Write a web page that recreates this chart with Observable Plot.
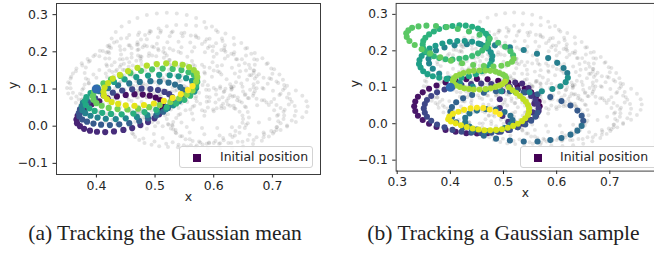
<!DOCTYPE html>
<html><head><meta charset="utf-8">
<script src="https://cdn.jsdelivr.net/npm/d3@7"></script>
<script src="https://cdn.jsdelivr.net/npm/@observablehq/plot@0.6"></script>
<style>
body{margin:0;background:#fff;}
#wrap{position:relative;width:654px;height:253px;overflow:hidden;}
.panel{position:absolute;top:0;}
.panel svg{display:block;}
.legend{position:absolute;top:146px;height:22px;box-sizing:border-box;border:1px solid #d3d3d3;border-radius:3px;background:rgba(255,255,255,0.85);font:12.5px "DejaVu Sans",sans-serif;color:#262626;}
.legend .sq{position:absolute;top:6.5px;width:8px;height:8px;background:#440154;}
.legend .lt{position:absolute;top:2px;line-height:16px;white-space:nowrap;}
.caption{position:absolute;top:221px;line-height:24px;font:21.5px "Liberation Serif","Times New Roman",serif;color:#222;white-space:nowrap;transform:translateX(-50%);}
</style></head>
<body><div id="wrap"></div>
<script>
// ---------- labels & ticks ----------
const xTicksA = [0.4, 0.5, 0.6, 0.7];
const xTicksB = [0.3, 0.4, 0.5, 0.6, 0.7];
const yTicks = [-0.1, 0.0, 0.1, 0.2, 0.3];
const xLabel = "x";
const yLabel = "y";
const legendLabel = "Initial position";
const captionA = "(a) Tracking the Gaussian mean";
const captionB = "(b) Tracking a Gaussian sample";

// ---------- gray background trajectory (same in both panels) ----------
const grayG1 = [[.620,.200],[.619,.218],[.614,.236],[.607,.253],[.597,.268],[.584,.280],[.570,.291],[.554,.299],[.537,.303],[.520,.305],[.503,.303],[.486,.299],[.470,.291],[.456,.280],[.443,.268],[.433,.253],[.426,.236],[.422,.218],[.420,.200],[.422,.182],[.426,.164],[.433,.148],[.443,.133],[.456,.120],[.470,.109],[.486,.101],[.503,.097],[.520,.095],[.537,.097],[.554,.101],[.570,.109],[.584,.120],[.597,.133],[.607,.148],[.614,.164],[.619,.182]];
const grayG2 = [[.645,.148],[.643,.164],[.638,.180],[.630,.195],[.618,.210],[.604,.223],[.588,.234],[.569,.244],[.550,.251],[.530,.255],[.510,.257],[.491,.256],[.473,.252],[.456,.245],[.442,.236],[.430,.225],[.422,.212],[.417,.198],[.415,.182],[.417,.166],[.422,.150],[.430,.135],[.442,.120],[.456,.107],[.473,.096],[.491,.086],[.510,.079],[.530,.075],[.550,.073],[.569,.075],[.588,.079],[.604,.085],[.618,.094],[.630,.105],[.638,.118],[.643,.132]];
const grayG3 = [[.570,.147],[.568,.162],[.563,.175],[.555,.187],[.544,.197],[.531,.204],[.515,.210],[.498,.212],[.479,.212],[.460,.210],[.441,.205],[.422,.197],[.405,.188],[.389,.176],[.376,.163],[.365,.148],[.357,.133],[.352,.118],[.350,.103],[.352,.088],[.357,.075],[.365,.063],[.376,.053],[.389,.046],[.405,.040],[.422,.038],[.441,.037],[.460,.040],[.479,.045],[.498,.053],[.515,.062],[.531,.074],[.544,.087],[.555,.102],[.563,.117],[.568,.132]];
const grayG4 = [[.630,.098],[.628,.113],[.622,.126],[.613,.139],[.600,.150],[.584,.159],[.565,.165],[.545,.169],[.523,.171],[.500,.170],[.477,.166],[.455,.160],[.435,.152],[.416,.142],[.400,.130],[.387,.116],[.378,.102],[.372,.087],[.370,.072],[.372,.057],[.378,.044],[.387,.031],[.400,.020],[.416,.011],[.435,.005],[.455,.001],[.477,-.001],[.500,.000],[.523,.004],[.545,.010],[.565,.018],[.584,.028],[.600,.040],[.613,.054],[.622,.068],[.628,.083]];
const grayG5 = [[.660,.023],[.658,.038],[.653,.053],[.644,.067],[.632,.080],[.617,.092],[.600,.103],[.581,.111],[.561,.117],[.540,.120],[.519,.121],[.499,.119],[.480,.115],[.463,.108],[.448,.099],[.436,.088],[.427,.075],[.422,.062],[.420,.047],[.422,.032],[.427,.017],[.436,.003],[.448,-.011],[.463,-.022],[.480,-.033],[.499,-.041],[.519,-.047],[.540,-.050],[.561,-.051],[.581,-.049],[.600,-.045],[.617,-.038],[.632,-.029],[.644,-.018],[.653,-.005],[.658,.008]];
const grayG6 = [[.760,.053],[.758,.067],[.751,.082],[.740,.096],[.725,.109],[.707,.120],[.685,.130],[.661,.137],[.636,.142],[.610,.145],[.584,.145],[.559,.143],[.535,.137],[.513,.130],[.495,.120],[.480,.109],[.469,.096],[.462,.082],[.460,.068],[.462,.053],[.469,.038],[.480,.024],[.495,.011],[.513,.000],[.535,-.010],[.559,-.017],[.584,-.022],[.610,-.025],[.636,-.025],[.661,-.023],[.685,-.017],[.707,-.010],[.725,-.001],[.740,.011],[.751,.024],[.758,.038]];
const grayG7 = [[.740,.041],[.738,.054],[.733,.066],[.725,.077],[.714,.087],[.701,.095],[.685,.101],[.668,.104],[.649,.106],[.630,.105],[.611,.102],[.592,.097],[.575,.090],[.559,.080],[.546,.070],[.535,.058],[.527,.045],[.522,.032],[.520,.019],[.522,.006],[.527,-.006],[.535,-.017],[.546,-.027],[.559,-.035],[.575,-.041],[.592,-.044],[.611,-.046],[.630,-.045],[.649,-.042],[.668,-.037],[.685,-.030],[.701,-.020],[.714,-.010],[.725,.002],[.733,.015],[.738,.028]];
const grayG8 = [[.720,.111],[.718,.125],[.712,.139],[.703,.153],[.690,.167],[.674,.179],[.655,.190],[.635,.199],[.613,.205],[.590,.210],[.567,.212],[.545,.212],[.525,.209],[.506,.204],[.490,.196],[.477,.187],[.468,.176],[.462,.163],[.460,.150],[.462,.135],[.468,.121],[.477,.107],[.490,.094],[.506,.081],[.525,.071],[.545,.061],[.567,.055],[.590,.050],[.613,.048],[.635,.048],[.655,.051],[.674,.056],[.690,.064],[.703,.073],[.712,.084],[.718,.097]];
const grayG9 = [[.650,.019],[.649,.029],[.644,.039],[.637,.047],[.628,.055],[.616,.060],[.603,.064],[.588,.066],[.571,.067],[.555,.065],[.539,.062],[.522,.057],[.507,.050],[.494,.042],[.482,.033],[.473,.023],[.466,.012],[.461,.001],[.460,-.009],[.461,-.019],[.466,-.029],[.473,-.037],[.482,-.045],[.494,-.050],[.507,-.054],[.522,-.056],[.539,-.057],[.555,-.055],[.571,-.052],[.588,-.047],[.603,-.040],[.616,-.032],[.628,-.023],[.637,-.013],[.644,-.002],[.649,.009]];
const grayG10 = [[.525,.166],[.524,.178],[.520,.190],[.514,.200],[.505,.208],[.495,.214],[.482,.218],[.469,.219],[.455,.218],[.440,.215],[.425,.210],[.411,.202],[.398,.192],[.385,.181],[.375,.169],[.366,.155],[.360,.142],[.356,.128],[.355,.115],[.356,.102],[.360,.090],[.366,.080],[.375,.072],[.385,.066],[.398,.062],[.411,.061],[.425,.062],[.440,.065],[.455,.071],[.469,.078],[.482,.088],[.495,.099],[.505,.111],[.514,.125],[.520,.138],[.524,.152]];
const grayG11 = [[.670,.165],[.669,.180],[.664,.195],[.657,.210],[.647,.224],[.634,.237],[.620,.249],[.604,.258],[.587,.265],[.570,.270],[.553,.272],[.536,.272],[.520,.269],[.506,.263],[.493,.255],[.483,.245],[.476,.233],[.471,.220],[.470,.205],[.471,.190],[.476,.175],[.483,.160],[.493,.146],[.506,.133],[.520,.121],[.536,.112],[.553,.105],[.570,.100],[.587,.098],[.604,.098],[.620,.101],[.634,.107],[.647,.115],[.657,.125],[.664,.137],[.669,.150]];
const grayG12 = [[.670,.128],[.668,.143],[.662,.156],[.653,.169],[.640,.180],[.624,.189],[.605,.195],[.585,.199],[.563,.201],[.540,.200],[.517,.196],[.495,.190],[.475,.182],[.456,.172],[.440,.160],[.427,.146],[.418,.132],[.412,.117],[.410,.102],[.412,.087],[.418,.074],[.427,.061],[.440,.050],[.456,.041],[.475,.035],[.495,.031],[.517,.029],[.540,.030],[.563,.034],[.585,.040],[.605,.048],[.624,.058],[.640,.070],[.653,.084],[.662,.098],[.668,.113]];
const grayG13 = [[.710,.013],[.708,.028],[.703,.043],[.694,.057],[.682,.070],[.667,.082],[.650,.093],[.631,.101],[.611,.107],[.590,.110],[.569,.111],[.549,.109],[.530,.105],[.513,.098],[.498,.089],[.486,.078],[.477,.065],[.472,.052],[.470,.037],[.472,.022],[.477,.007],[.486,-.007],[.498,-.021],[.513,-.032],[.530,-.043],[.549,-.051],[.569,-.057],[.590,-.060],[.611,-.061],[.631,-.059],[.650,-.055],[.667,-.048],[.682,-.039],[.694,-.028],[.703,-.015],[.708,-.002]];
const grayG14 = [[.600,.187],[.598,.202],[.593,.215],[.585,.227],[.574,.237],[.561,.244],[.545,.250],[.528,.252],[.509,.252],[.490,.250],[.471,.245],[.452,.237],[.435,.228],[.419,.216],[.406,.203],[.395,.188],[.387,.173],[.382,.158],[.380,.143],[.382,.128],[.387,.115],[.395,.103],[.406,.093],[.419,.086],[.435,.080],[.452,.078],[.471,.077],[.490,.080],[.509,.085],[.528,.093],[.545,.102],[.561,.114],[.574,.127],[.585,.142],[.593,.157],[.598,.172]];
const grayG15 = [[.720,.029],[.719,.039],[.714,.049],[.707,.057],[.698,.065],[.686,.070],[.673,.074],[.658,.076],[.641,.077],[.625,.075],[.609,.072],[.592,.067],[.577,.060],[.564,.052],[.552,.043],[.543,.033],[.536,.022],[.531,.011],[.530,.001],[.531,-.009],[.536,-.019],[.543,-.027],[.552,-.035],[.564,-.040],[.577,-.044],[.592,-.046],[.609,-.047],[.625,-.045],[.641,-.042],[.658,-.037],[.673,-.030],[.686,-.022],[.698,-.013],[.707,-.003],[.714,.008],[.719,.019]];
const grayG16 = [[.545,.136],[.544,.148],[.540,.160],[.534,.170],[.525,.178],[.515,.184],[.502,.188],[.489,.189],[.475,.188],[.460,.185],[.445,.180],[.431,.172],[.418,.162],[.405,.151],[.395,.139],[.386,.125],[.380,.112],[.376,.098],[.375,.085],[.376,.072],[.380,.060],[.386,.050],[.395,.042],[.405,.036],[.418,.032],[.431,.031],[.445,.032],[.460,.035],[.475,.041],[.489,.048],[.502,.058],[.515,.069],[.525,.081],[.534,.095],[.540,.108],[.544,.122]];
const grayG17 = [[.700,.141],[.698,.155],[.692,.169],[.683,.183],[.670,.197],[.654,.209],[.635,.220],[.615,.229],[.593,.235],[.570,.240],[.547,.242],[.525,.242],[.505,.239],[.486,.234],[.470,.226],[.457,.217],[.448,.206],[.442,.193],[.440,.180],[.442,.165],[.448,.151],[.457,.137],[.470,.124],[.486,.111],[.505,.101],[.525,.091],[.547,.085],[.570,.080],[.593,.078],[.615,.078],[.635,.081],[.654,.086],[.670,.094],[.683,.103],[.692,.114],[.698,.127]];
const grayG18 = [[.730,.073],[.728,.087],[.721,.102],[.710,.116],[.695,.129],[.677,.140],[.655,.150],[.631,.157],[.606,.162],[.580,.165],[.554,.165],[.529,.163],[.505,.157],[.483,.150],[.465,.140],[.450,.129],[.439,.116],[.432,.102],[.430,.088],[.432,.073],[.439,.058],[.450,.044],[.465,.031],[.483,.020],[.505,.010],[.529,.003],[.554,-.002],[.580,-.005],[.606,-.005],[.631,-.003],[.655,.003],[.677,.010],[.695,.019],[.710,.031],[.721,.044],[.728,.058]];
const grayG19 = [[.675,.118],[.673,.134],[.668,.150],[.660,.165],[.648,.180],[.634,.193],[.618,.204],[.599,.214],[.580,.221],[.560,.225],[.540,.227],[.521,.226],[.503,.222],[.486,.215],[.472,.206],[.460,.195],[.452,.182],[.447,.168],[.445,.152],[.447,.136],[.452,.120],[.460,.105],[.472,.090],[.486,.077],[.503,.066],[.521,.056],[.540,.049],[.560,.045],[.580,.043],[.599,.045],[.618,.049],[.634,.055],[.648,.064],[.660,.075],[.668,.088],[.673,.102]];
const grayLoops = [grayG1, grayG2, grayG3, grayG4, grayG5, grayG6, grayG7, grayG8, grayG9, grayG10, grayG11, grayG12, grayG13, grayG14, grayG15, grayG16, grayG17, grayG18, grayG19];

// ---------- (a) tracking the Gaussian mean: colored trajectory in time order ----------
const meanL1 = [[.512,.042],[.514,.052],[.513,.062],[.509,.070],[.501,.077],[.491,.082],[.479,.085],[.465,.086],[.450,.084],[.435,.080],[.419,.075],[.405,.067],[.392,.059],[.381,.049],[.373,.038],[.368,.028],[.366,.018],[.367,.008],[.372,.000],[.379,-.007],[.389,-.012],[.401,-.015],[.415,-.016],[.430,-.014],[.446,-.010],[.461,-.005],[.475,.003],[.488,.011],[.499,.021],[.507,.032]];
const meanL2 = [[.528,.059],[.530,.069],[.529,.078],[.524,.086],[.516,.092],[.505,.097],[.492,.100],[.477,.101],[.461,.099],[.444,.096],[.428,.090],[.412,.083],[.398,.075],[.386,.065],[.378,.055],[.372,.045],[.370,.035],[.371,.026],[.376,.018],[.384,.012],[.395,.007],[.408,.004],[.423,.003],[.439,.005],[.456,.008],[.473,.014],[.488,.021],[.502,.029],[.514,.039],[.522,.049]];
const meanL3 = [[.547,.077],[.549,.087],[.548,.097],[.543,.105],[.534,.112],[.523,.117],[.508,.120],[.492,.121],[.474,.119],[.456,.115],[.437,.110],[.420,.102],[.405,.094],[.393,.084],[.383,.073],[.377,.063],[.375,.053],[.376,.043],[.381,.035],[.390,.028],[.402,.023],[.416,.020],[.433,.019],[.450,.021],[.469,.025],[.487,.030],[.504,.038],[.519,.046],[.531,.056],[.541,.067]];
const meanL4 = [[.567,.093],[.570,.103],[.568,.113],[.563,.122],[.553,.129],[.540,.134],[.525,.137],[.507,.138],[.488,.136],[.468,.132],[.448,.126],[.430,.119],[.414,.110],[.400,.099],[.390,.089],[.383,.078],[.380,.067],[.382,.057],[.388,.048],[.397,.041],[.410,.036],[.425,.033],[.443,.032],[.463,.034],[.482,.038],[.502,.044],[.520,.051],[.536,.061],[.550,.071],[.560,.082]];
const meanL5 = [[.570,.108],[.572,.119],[.571,.129],[.566,.138],[.557,.145],[.545,.151],[.530,.154],[.513,.155],[.495,.153],[.476,.149],[.458,.143],[.441,.135],[.425,.126],[.412,.115],[.402,.104],[.396,.092],[.394,.081],[.395,.071],[.400,.062],[.409,.055],[.421,.049],[.436,.046],[.453,.045],[.471,.047],[.490,.051],[.508,.057],[.526,.065],[.541,.075],[.554,.085],[.564,.096]];
const meanL6 = [[.570,.120],[.572,.132],[.571,.142],[.566,.151],[.558,.159],[.547,.165],[.534,.168],[.519,.169],[.503,.167],[.486,.163],[.470,.157],[.454,.148],[.440,.138],[.428,.128],[.420,.116],[.414,.104],[.412,.093],[.413,.082],[.418,.073],[.426,.065],[.437,.060],[.450,.056],[.465,.055],[.481,.057],[.498,.061],[.515,.068],[.530,.076],[.544,.086],[.556,.097],[.564,.108]];
const meanTrack = [...meanL1, ...meanL2, ...meanL3, ...meanL4, ...meanL5, ...meanL6];

// ---------- (b) tracking a Gaussian sample: colored trajectory in time order ----------
const sampleR1 = [[.568,.048],[.566,.061],[.561,.074],[.552,.086],[.540,.096],[.526,.105],[.509,.113],[.490,.118],[.470,.122],[.450,.123],[.430,.122],[.410,.118],[.391,.113],[.374,.105],[.360,.096],[.348,.086],[.339,.074],[.334,.061],[.332,.048],[.334,.035],[.339,.022],[.348,.010],[.360,.000],[.374,-.009],[.391,-.017],[.410,-.022],[.430,-.026],[.450,-.027],[.470,-.026],[.490,-.022],[.509,-.017],[.526,-.009],[.540,.000],[.552,.010],[.561,.022],[.566,.035]];
const sampleR2 = [[.558,.055],[.555,.079],[.547,.098],[.535,.110],[.522,.113],[.509,.105],[.498,.089],[.493,.067],[.493,.043],[.498,.021],[.509,.005],[.522,-.003],[.535,.000],[.547,.012],[.555,.031]];
const sampleR3 = [[.566,.042],[.564,.054],[.560,.065],[.552,.076],[.541,.086],[.527,.094],[.512,.101],[.495,.106],[.477,.109],[.458,.110],[.439,.109],[.421,.106],[.404,.101],[.389,.094],[.375,.086],[.364,.076],[.356,.065],[.352,.054],[.350,.042],[.352,.030],[.356,.019],[.364,.008],[.375,-.002],[.389,-.010],[.404,-.017],[.421,-.022],[.439,-.025],[.458,-.026],[.477,-.025],[.495,-.022],[.512,-.017],[.527,-.010],[.541,-.002],[.552,.008],[.560,.019],[.564,.030]];
const sampleR4 = [[.650,.008],[.647,.022],[.639,.036],[.626,.050],[.609,.062],[.588,.073],[.564,.081],[.538,.086],[.512,.089],[.486,.089],[.463,.085],[.441,.079],[.424,.070],[.411,.059],[.403,.046],[.400,.033],[.403,.018],[.411,.004],[.424,-.010],[.441,-.022],[.463,-.033],[.486,-.041],[.512,-.046],[.538,-.049],[.564,-.049],[.588,-.045],[.609,-.039],[.626,-.030],[.639,-.019],[.647,-.006]];
const sampleR5 = [[.517,.010],[.513,.022],[.502,.032],[.486,.039],[.467,.040],[.450,.036],[.436,.028],[.428,.016],[.428,.004],[.436,-.008],[.450,-.016],[.467,-.020],[.486,-.019],[.502,-.012],[.513,-.002]];
const sampleR6 = [[.620,.139],[.613,.153],[.601,.167],[.584,.180],[.563,.192],[.538,.202],[.512,.210],[.484,.215],[.457,.218],[.431,.218],[.408,.215],[.389,.209],[.373,.201],[.363,.190],[.359,.178],[.360,.165],[.367,.151],[.379,.137],[.396,.124],[.418,.112],[.442,.102],[.468,.094],[.496,.089],[.523,.086],[.549,.086],[.572,.089],[.592,.095],[.607,.103],[.617,.114],[.621,.126]];
const sampleR7 = [[.478,.175],[.479,.186],[.476,.196],[.471,.206],[.463,.214],[.453,.220],[.441,.225],[.427,.227],[.413,.227],[.399,.225],[.385,.220],[.372,.214],[.361,.206],[.352,.196],[.346,.186],[.342,.175],[.341,.164],[.344,.154],[.349,.144],[.357,.136],[.367,.130],[.379,.126],[.393,.123],[.407,.123],[.421,.126],[.435,.130],[.448,.136],[.459,.144],[.468,.154],[.475,.164]];
const sampleR8 = [[.472,.229],[.471,.239],[.467,.247],[.460,.255],[.452,.261],[.441,.266],[.429,.269],[.417,.270],[.404,.268],[.391,.265],[.379,.260],[.369,.253],[.360,.245],[.353,.236],[.349,.227],[.348,.217],[.349,.207],[.353,.199],[.360,.191],[.369,.185],[.379,.180],[.391,.177],[.404,.176],[.417,.178],[.429,.181],[.441,.186],[.452,.193],[.460,.201],[.467,.210],[.471,.220]];
const sampleR9 = [[.518,.188],[.513,.199],[.503,.211],[.490,.222],[.474,.234],[.455,.244],[.435,.253],[.414,.260],[.393,.265],[.373,.268],[.355,.269],[.340,.267],[.328,.263],[.321,.256],[.317,.248],[.318,.238],[.323,.227],[.333,.216],[.346,.204],[.362,.193],[.381,.182],[.401,.173],[.422,.166],[.443,.161],[.463,.158],[.481,.157],[.496,.159],[.508,.164],[.516,.170],[.519,.178]];
const sampleR10 = [[.505,.120],[.505,.125],[.503,.131],[.499,.135],[.492,.139],[.485,.143],[.475,.145],[.466,.146],[.455,.146],[.444,.145],[.435,.143],[.425,.139],[.418,.135],[.411,.131],[.407,.125],[.405,.120],[.405,.115],[.407,.109],[.411,.105],[.418,.101],[.426,.097],[.435,.095],[.444,.094],[.455,.094],[.466,.095],[.476,.097],[.485,.101],[.492,.105],[.498,.109],[.503,.115]];
const sampleR11 = [[.510,.100],[.517,.092],[.524,.084],[.531,.076],[.537,.068],[.542,.060],[.546,.051],[.548,.042],[.548,.033],[.546,.024],[.541,.015],[.535,.007],[.527,.000],[.518,-.006],[.508,-.011],[.497,-.015],[.486,-.017],[.475,-.018],[.464,-.018],[.453,-.016],[.442,-.013],[.431,-.009],[.420,-.004],[.410,.001],[.401,.006],[.396,.012],[.398,.020],[.405,.027],[.415,.033],[.426,.038],[.438,.042],[.450,.044],[.462,.043],[.474,.039],[.485,.033],[.493,.026]];
const sampleTrack = [...sampleR1, ...sampleR2, ...sampleR3, ...sampleR4, ...sampleR5, ...sampleR6, ...sampleR7, ...sampleR8, ...sampleR9, ...sampleR10, ...sampleR11];

// large blue marker (same place in both panels)
const blueMarker = [[0.40, 0.10]];

const yDomain = [-0.13, 0.33];
const xDomainA = [0.332, 0.782];
const xDomainB = [0.298, 0.784];

function chart(track, xDomain, xTicks, o) {
  const fmt = d3.format(".1f");
  const gray = grayLoops.flat();
  return Plot.plot({
    width: o.width, height: 207,
    marginLeft: o.ml, marginRight: o.mr, marginTop: 3, marginBottom: 33,
    style: {fontFamily: '"DejaVu Sans", sans-serif', fontSize: "12.5px", color: "#262626", background: "transparent", overflow: "visible"},
    x: {domain: xDomain},
    y: {domain: yDomain},
    color: {type: "linear", scheme: "viridis", domain: [0, track.length - 1]},
    marks: [
      Plot.dot(gray, {x: d => d[0], y: d => d[1], r: 2, fill: "#555", fillOpacity: 0.16}),
      Plot.dot(track, {x: d => d[0], y: d => d[1], r: 3.1, fill: (d, i) => i}),
      Plot.dot(blueMarker, {x: d => d[0], y: d => d[1], r: 4.6, fill: "#2f6cb0"}),
      Plot.frame({stroke: "#3c3c3c", strokeWidth: 1}),
      Plot.axisX({ticks: xTicks, tickFormat: fmt, tickSize: 3.5, tickPadding: 3, label: null}),
      Plot.axisY({ticks: yTicks, tickFormat: fmt, tickSize: 3.5, tickPadding: 5, label: null}),
      Plot.text([xLabel], {text: d => d, frameAnchor: "bottom", dy: 26, fontSize: 12.5}),
      Plot.text([yLabel], {text: d => d, frameAnchor: "left", dx: o.ylx, rotate: -90, fontSize: 12.5})
    ]
  });
}

const wrap = document.getElementById("wrap");
function addPanel(svg, left) {
  const d = document.createElement("div");
  d.className = "panel";
  d.style.left = left + "px";
  d.appendChild(svg);
  wrap.appendChild(d);
}
addPanel(chart(meanTrack, xDomainA, xTicksA, {width: 327, ml: 56, mr: 7, ylx: -44}), 0);
addPanel(chart(sampleTrack, xDomainB, xTicksB, {width: 333.5, ml: 70, mr: 0, ylx: -42}), 327);

function addLegend(left, width, sqLeft, textLeft) {
  const lg = document.createElement("div");
  lg.className = "legend";
  lg.style.left = left + "px";
  lg.style.width = width + "px";
  const sq = document.createElement("span");
  sq.className = "sq"; sq.style.left = sqLeft + "px";
  const t = document.createElement("span");
  t.className = "lt"; t.style.left = textLeft + "px";
  t.textContent = legendLabel;
  lg.appendChild(sq); lg.appendChild(t);
  wrap.appendChild(lg);
}
addLegend(179, 134, 13, 40);
addLegend(520, 140, 13, 39);

function addCaption(text, cx) {
  const c = document.createElement("div");
  c.className = "caption";
  c.style.left = cx + "px";
  c.textContent = text;
  wrap.appendChild(c);
}
addCaption(captionA, 165);
addCaption(captionB, 503.5);
</script>
</body></html>
